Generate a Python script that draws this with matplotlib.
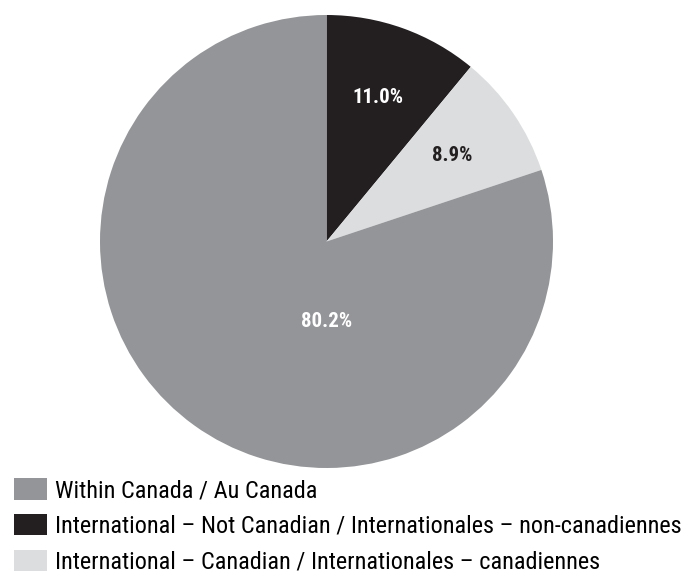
import matplotlib.pyplot as plt
from matplotlib.patches import Patch

labels = ['International – Not Canadian / Internationales – non-canadiennes',
          'International – Canadian / Internationales – canadiennes',
          'Within Canada / Au Canada']
values = [11.0, 8.9, 80.2]
pct_labels = ['11.0%', '8.9%', '80.2%']
colors = ['#231f20', '#dcdddf', '#939598']
label_colors = ['white', '#231f20', 'white']

plt.rcParams['font.family'] = ['Roboto Condensed', 'DejaVu Sans']

fig = plt.figure(figsize=(6.88, 5.73), dpi=100)
ax = fig.add_axes([100 / 688, (573 - 468) / 573, 453 / 688, 453 / 573])

wedges, texts = ax.pie(values, colors=colors, startangle=90, counterclock=False,
                       labels=pct_labels, labeldistance=0.675, radius=1,
                       wedgeprops={'linewidth': 0})
for t, c in zip(texts, label_colors):
    t.set_color(c)
    t.set_fontsize(15)
    t.set_fontweight('bold')
    t.set_ha('center')
    t.set_va('center')
texts[2].set_position((0, -0.355))
ax.set_xlim(-1, 1)
ax.set_ylim(-1, 1)
ax.set_aspect('equal')

# legend order as in the picture
order = [2, 0, 1]
handles = [Patch(facecolor=colors[i], edgecolor='none') for i in order]
fig.legend(handles, [labels[i] for i in order], loc='upper left',
           bbox_to_anchor=(14 / 688, (573 - 478) / 573), frameon=False,
           fontsize=17.5, handlelength=1.36, handleheight=0.99,
           handletextpad=0.33, labelspacing=0.48, borderaxespad=0, borderpad=0)

fig.savefig('out.png', dpi=100)
